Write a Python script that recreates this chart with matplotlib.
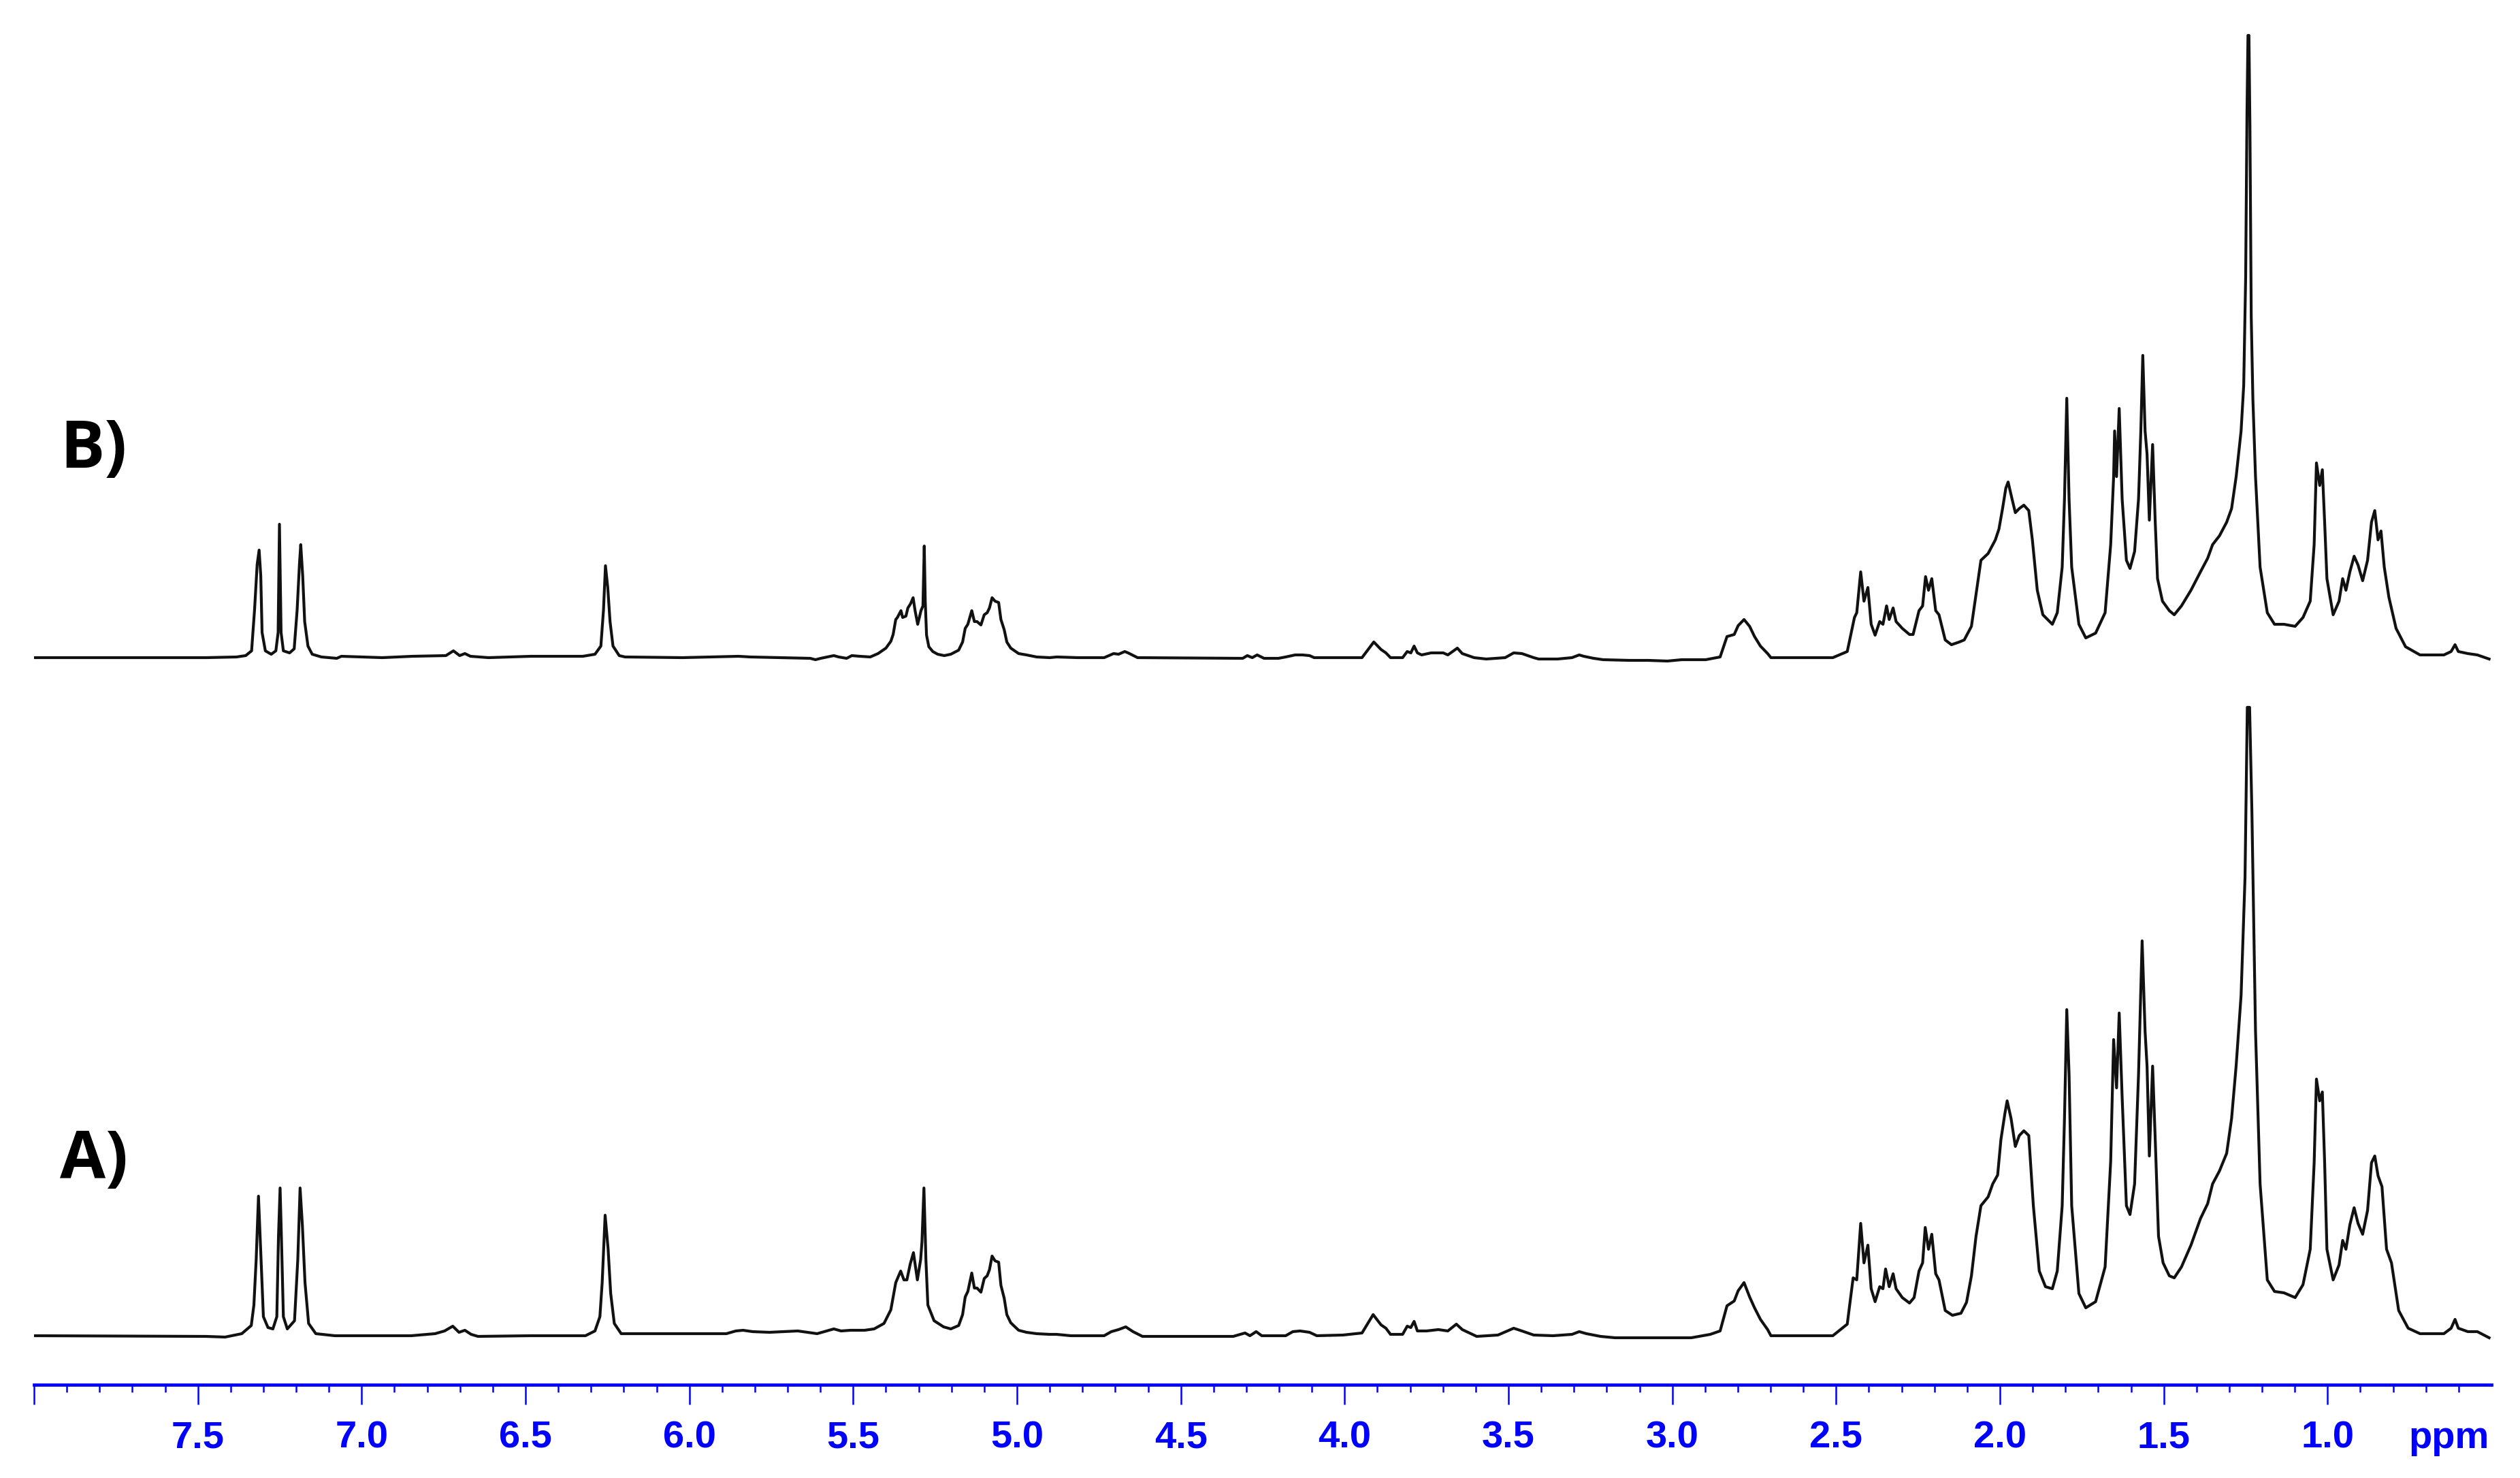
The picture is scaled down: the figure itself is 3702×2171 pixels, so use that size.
import numpy as np
import matplotlib
matplotlib.use("Agg")
import matplotlib.pyplot as plt
from matplotlib.ticker import FixedLocator

# ---------------- data (chemical shift in ppm, intensity in arbitrary units) -------------
# Spectrum B (upper trace)
ppm_B_1 = [8.000, 7.475, 7.382, 7.354, 7.336, 7.327, 7.319, 7.313, 7.308, 7.304,
           7.294, 7.276, 7.262, 7.255, 7.251, 7.246, 7.239, 7.220, 7.206, 7.197,
           7.190, 7.186, 7.180, 7.174, 7.164, 7.151, 7.123, 7.076, 7.062, 6.937,
           6.845, 6.743, 6.720, 6.701, 6.685, 6.668, 6.613, 6.483, 6.325, 6.288,
           6.270, 6.262, 6.256, 6.249, 6.242, 6.233, 6.214, 6.196, 6.021]
int_B_1 = [0, 0, 1, 3, 10, 70, 137, 158, 120, 37,
           10, 5, 10, 37, 196, 37, 10, 7, 13, 70,
           137, 166, 120, 53, 17, 5, 1, -1, 2, 0,
           2, 3, 10, 3, 6, 2, 0, 2, 2, 5,
           17, 70, 135, 103, 53, 17, 3, 1, 0]

ppm_B_2 = [5.850, 5.814, 5.631, 5.615, 5.599, 5.559, 5.544, 5.520, 5.504, 5.480,
           5.448, 5.424, 5.400, 5.385, 5.378, 5.370, 5.365, 5.354, 5.349, 5.339,
           5.333, 5.325, 5.317, 5.311, 5.303, 5.293, 5.287, 5.283, 5.280, 5.276,
           5.269, 5.257, 5.242, 5.222, 5.202, 5.178, 5.166, 5.158, 5.150, 5.138,
           5.130, 5.122, 5.110, 5.100, 5.091, 5.084, 5.076, 5.067, 5.056, 5.049,
           5.039, 5.031, 5.019, 4.995, 4.971, 4.940, 4.900]
int_B_2 = [2, 1, -1, -3, -1, 3, 1, -1, 3, 2,
           1, 6, 14, 24, 34, 56, 59, 69, 59, 61,
           73, 79, 88, 69, 49, 69, 76, 164, 83, 33,
           16, 9, 5, 3, 5, 11, 23, 43, 49, 69,
           53, 53, 48, 63, 66, 73, 88, 83, 81, 56,
           41, 23, 14, 6, 4, 1, 0]

ppm_B_3 = [4.879, 4.814, 4.734, 4.705, 4.690, 4.671, 4.661, 4.632, 4.311, 4.297,
           4.282, 4.267, 4.246, 4.202, 4.180, 4.151, 4.129, 4.107, 4.093, 3.947,
           3.911, 3.889, 3.874, 3.860, 3.823, 3.809, 3.798, 3.788, 3.778, 3.765,
           3.736, 3.699, 3.685, 3.656, 3.641, 3.605, 3.568, 3.510, 3.484, 3.459,
           3.423, 3.408, 3.350, 3.306, 3.284, 3.270, 3.240, 3.211, 3.131, 3.073,
           3.015, 2.971, 2.898, 2.854, 2.833, 2.811, 2.799, 2.781, 2.764, 2.749,
           2.731, 2.709]
int_B_3 = [1, 0, 0, 6, 5, 9, 7, 0, -1, 3,
           0, 4, -1, -1, 1, 4, 4, 3, 0, 0,
           23, 12, 7, 0, 0, 9, 7, 17, 7, 4,
           7, 7, 4, 14, 6, 0, -2, 0, 7, 6,
           0, -2, -2, 0, 4, 2, -1, -3, -4, -4,
           -5, -3, -3, 1, 31, 34, 47, 56, 46, 31,
           17, 6]

ppm_B_4 = [2.699, 2.510, 2.466, 2.444, 2.437, 2.425, 2.415, 2.403, 2.393, 2.381,
           2.367, 2.357, 2.346, 2.338, 2.326, 2.317, 2.298, 2.276, 2.265, 2.247,
           2.236, 2.227, 2.218, 2.208, 2.196, 2.186, 2.167, 2.148, 2.124, 2.109,
           2.087, 2.058, 2.036, 2.014, 2.003, 1.992, 1.982, 1.975, 1.963, 1.953,
           1.941, 1.927, 1.912, 1.901, 1.886, 1.869, 1.840, 1.825, 1.810, 1.803,
           1.796, 1.789, 1.781, 1.759, 1.738, 1.708, 1.679, 1.662, 1.653, 1.650,
           1.644, 1.636, 1.627, 1.614, 1.603, 1.589, 1.577, 1.570, 1.564, 1.557,
           1.551, 1.544, 1.534, 1.526, 1.519, 1.504, 1.483, 1.468, 1.446, 1.417,
           1.388, 1.366, 1.351, 1.330, 1.308, 1.293, 1.279, 1.264, 1.256, 1.250,
           1.246, 1.243, 1.240, 1.237, 1.233, 1.228, 1.220, 1.206, 1.184, 1.162,
           1.133, 1.099, 1.075, 1.053, 1.041, 1.034, 1.024, 1.016, 1.009, 1.002,
           0.983, 0.965, 0.954, 0.944, 0.932, 0.919, 0.907, 0.893, 0.878, 0.866,
           0.856, 0.846, 0.837, 0.827, 0.813, 0.791, 0.762, 0.718, 0.645, 0.623,
           0.611, 0.601, 0.572, 0.543, 0.507]
int_B_4 = [0, 0, 9, 59, 66, 126, 83, 103, 49, 33,
           53, 49, 76, 56, 73, 53, 43, 34, 34, 69,
           76, 119, 99, 116, 69, 63, 26, 19, 23, 26,
           46, 143, 153, 173, 189, 219, 249, 258, 233, 213,
           219, 224, 216, 173, 99, 63, 49, 66, 133, 233,
           381, 233, 133, 49, 29, 36, 66, 166, 266, 333,
           266, 366, 233, 143, 131, 156, 233, 333, 444, 333,
           299, 202, 313, 199, 116, 83, 69, 63, 76, 99,
           126, 146, 166, 179, 199, 219, 266, 333, 400, 560,
           800, 914, 914, 780, 500, 380, 266, 133, 66, 49,
           49, 46, 59, 83, 166, 286, 253, 276, 199, 116,
           63, 83, 116, 99, 126, 149, 136, 113, 143, 199,
           216, 173, 186, 133, 89, 43, 16, 4, 4, 9,
           19, 9, 6, 4, -2]

# Spectrum A (lower trace)
ppm_A_1 = [8.000, 7.475, 7.417, 7.366, 7.337, 7.329, 7.322, 7.315, 7.307, 7.300,
           7.286, 7.271, 7.259, 7.254, 7.249, 7.245, 7.239, 7.227, 7.205, 7.195,
           7.188, 7.181, 7.173, 7.162, 7.140, 7.082, 6.849, 6.776, 6.747, 6.722,
           6.703, 6.685, 6.666, 6.645, 6.484, 6.317, 6.288, 6.273, 6.266, 6.257,
           6.248, 6.240, 6.229, 6.208, 5.887, 5.858, 5.836, 5.807, 5.756, 5.669,
           5.610, 5.581, 5.559, 5.537, 5.508, 5.487, 5.465, 5.436, 5.406, 5.385,
           5.370, 5.355, 5.345, 5.336, 5.326, 5.316, 5.304, 5.294, 5.290, 5.284,
           5.278, 5.272, 5.253, 5.224]
int_A_1 = [0, -1, -2, 3, 15, 45, 112, 205, 112, 28,
           12, 10, 28, 145, 217, 145, 28, 10, 22, 112,
           217, 162, 78, 18, 3, 0, 0, 3, 7, 14,
           5, 8, 2, -1, 0, 0, 7, 28, 78, 177,
           128, 62, 18, 3, 3, 7, 8, 6, 5, 7,
           3, 7, 10, 7, 8, 8, 8, 10, 18, 38,
           78, 95, 82, 82, 105, 122, 82, 112, 138, 217,
           112, 45, 22, 13]

ppm_A_2 = [5.202, 5.178, 5.166, 5.158, 5.150, 5.138, 5.130, 5.122, 5.110, 5.100,
           5.091, 5.084, 5.076, 5.067, 5.056, 5.049, 5.039, 5.031, 5.019, 4.995,
           4.971, 4.940, 4.900]
int_A_2 = [10, 15, 31, 57, 65, 92, 70, 70, 64, 84,
           88, 97, 117, 110, 108, 74, 55, 31, 19, 8,
           5, 3, 2]

ppm_A_3 = [4.879, 4.836, 4.734, 4.712, 4.690, 4.668, 4.646, 4.617, 4.340, 4.304,
           4.289, 4.270, 4.253, 4.180, 4.158, 4.136, 4.107, 4.085, 4.005, 3.947,
           3.913, 3.889, 3.874, 3.860, 3.823, 3.809, 3.798, 3.788, 3.778, 3.750,
           3.714, 3.685, 3.659, 3.641, 3.597, 3.532, 3.484, 3.459, 3.423, 3.364,
           3.306, 3.284, 3.262, 3.219, 3.175, 2.942, 2.884, 2.854, 2.833, 2.811,
           2.799, 2.781, 2.764, 2.749, 2.731, 2.709]
int_A_3 = [2, 0, 0, 6, 9, 13, 6, -1, -1, 4,
           0, 6, 0, 0, 6, 7, 5, 0, 1, 4,
           31, 16, 11, 2, 2, 14, 12, 21, 7, 7,
           9, 7, 17, 9, -1, 1, 11, 7, 1, 0,
           2, 6, 3, -1, -3, -3, 2, 7, 44, 51,
           66, 78, 57, 41, 24, 9]

ppm_A_4 = [2.699, 2.510, 2.466, 2.448, 2.437, 2.425, 2.415, 2.403, 2.393, 2.381,
           2.367, 2.357, 2.349, 2.338, 2.326, 2.317, 2.298, 2.276, 2.262, 2.247,
           2.236, 2.228, 2.218, 2.208, 2.196, 2.186, 2.167, 2.145, 2.119, 2.102,
           2.087, 2.073, 2.058, 2.036, 2.022, 2.007, 1.997, 1.985, 1.978, 1.966,
           1.953, 1.941, 1.927, 1.912, 1.898, 1.880, 1.861, 1.840, 1.825, 1.810,
           1.803, 1.796, 1.789, 1.781, 1.759, 1.738, 1.708, 1.679, 1.662, 1.653,
           1.644, 1.636, 1.627, 1.614, 1.603, 1.589, 1.577, 1.566, 1.557, 1.551,
           1.544, 1.534, 1.526, 1.516, 1.502, 1.483, 1.468, 1.446, 1.417, 1.388,
           1.366, 1.351, 1.330, 1.308, 1.293, 1.279, 1.264, 1.252, 1.245, 1.238,
           1.231, 1.220, 1.206, 1.184, 1.162, 1.133, 1.099, 1.075, 1.053, 1.041,
           1.034, 1.024, 1.016, 1.009, 1.002, 0.983, 0.965, 0.954, 0.944, 0.932,
           0.919, 0.907, 0.893, 0.878, 0.866, 0.856, 0.846, 0.834, 0.820, 0.805,
           0.783, 0.754, 0.718, 0.645, 0.623, 0.611, 0.601, 0.572, 0.543, 0.507]
int_A_4 = [0, 0, 17, 85, 82, 165, 107, 133, 69, 50,
           72, 69, 98, 72, 91, 69, 56, 48, 56, 95,
           107, 159, 127, 149, 91, 82, 37, 30, 33, 49,
           88, 146, 191, 204, 223, 236, 288, 326, 345, 319,
           278, 294, 301, 294, 191, 95, 72, 69, 95, 191,
           319, 479, 384, 191, 62, 41, 50, 101, 256, 435,
           364, 474, 350, 191, 178, 223, 384, 580, 447, 396,
           264, 396, 288, 146, 107, 88, 85, 101, 133, 172,
           194, 223, 242, 268, 319, 397, 500, 673, 923, 923,
           770, 448, 223, 82, 65, 63, 56, 75, 127, 254,
           377, 345, 358, 254, 127, 82, 104, 140, 127, 163,
           188, 165, 149, 184, 254, 264, 235, 219, 127, 107,
           37, 11, 3, 3, 11, 24, 11, 6, 6, -3]

major_ticks = [8.0, 7.5, 7.0, 6.5, 6.0, 5.5, 5.0, 4.5, 4.0, 3.5, 3.0, 2.5, 2.0, 1.5, 1.0]
major_labels = ["", "7.5", "7.0", "6.5", "6.0", "5.5", "5.0", "4.5", "4.0",
                "3.5", "3.0", "2.5", "2.0", "1.5", "1.0"]
minor_ticks = [round(v / 10, 1) for v in range(6, 80)]
trace_labels = ["A)", "B)"]

# ---------------- assemble -------------
ppm_A = np.concatenate([ppm_A_1, ppm_A_2, ppm_A_3, ppm_A_4])
int_A = np.concatenate([int_A_1, int_A_2, int_A_3, int_A_4])
ppm_B = np.concatenate([ppm_B_1, ppm_B_2, ppm_B_3, ppm_B_4])
int_B = np.concatenate([int_B_1, int_B_2, int_B_3, int_B_4])

# ---------------- figure -------------
W, H = 3702, 2171
DPI = 200
fig = plt.figure(figsize=(W / DPI, H / DPI), dpi=DPI)
fig.patch.set_facecolor("white")

axis_y_px = 2034          # axis line position (from top)
left_px, right_px = 50, 3660
ax = fig.add_axes([left_px / W, (H - axis_y_px) / H,
                   (right_px - left_px) / W, axis_y_px / H])
ax.set_facecolor("none")

offset_B = 996            # vertical stacking offset of trace B
ax.plot(ppm_A, int_A, color="#111111", lw=1.5, solid_joinstyle="round")
ax.plot(ppm_B, int_B + offset_B, color="#111111", lw=1.5, solid_joinstyle="round")

ax.set_xlim(8.0, 0.5)
ax.set_ylim(-72, axis_y_px - 72)

for s in ("top", "left", "right"):
    ax.spines[s].set_visible(False)
blue = "#0000ff"
ax.spines["bottom"].set_color(blue)
ax.spines["bottom"].set_linewidth(1.7)
ax.set_yticks([])

ax.xaxis.set_major_locator(FixedLocator(major_ticks))
ax.xaxis.set_minor_locator(FixedLocator(minor_ticks))
ax.set_xticklabels(major_labels, fontfamily=["Liberation Sans", "DejaVu Sans"],
                   fontweight="bold", fontsize=20.2, color=blue)
ax.tick_params(axis="x", which="major", direction="out", length=10.4, width=0.9,
               color=blue, pad=8.4)
ax.tick_params(axis="x", which="minor", direction="out", length=4.0, width=0.9,
               color=blue)

fig.text(3598 / W, (H - 2127) / H, "ppm", ha="center", va="baseline",
         fontfamily=["Liberation Sans", "DejaVu Sans"], fontweight="bold",
         fontsize=20.2, color=blue)

label_font = ["Open Sans", "DejaVu Sans"]
fig.text(88 / W, (H - 1731) / H, trace_labels[0], ha="left", va="baseline",
         fontfamily=label_font, fontweight="bold", fontsize=35, color="black")
fig.text(88 / W, (H - 687) / H, trace_labels[1], ha="left", va="baseline",
         fontfamily=label_font, fontweight="bold", fontsize=35, color="black")

fig.savefig("out.png", dpi=DPI, facecolor="white")
